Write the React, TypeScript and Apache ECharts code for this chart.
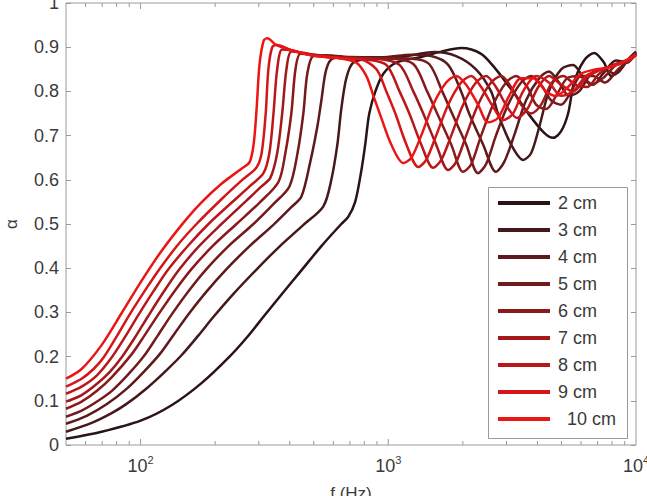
import React, { useEffect, useRef } from 'react';
import * as echarts from 'echarts';

const seriesNames = ['2 cm', '3 cm', '4 cm', '5 cm', '6 cm', '7 cm', '8 cm', '9 cm', '10 cm'];
const seriesColors = ['#2b1416', '#45191b', '#5c1a1c', '#721a1c', '#8a191c', '#a3181b', '#bb161a', '#d41619', '#ec1515'];

const alpha2cm = [[50,.014],[69.6,.030],[100,.055],[133.4,.09],[176.2,.14],[228.6,.20],[270.1,.245],[313.3,.29],[370,.34],[446,.395],[537,.45],[646,.50],[689,.516],[735,.55],[778,.62],[807,.68],[838,.75],[887,.80],[955,.84],[1077,.865],[1358,.878],[1636,.89],[1968,.898],[2370,.885],[2720,.85],[2935,.826],[3280,.79],[3670,.75],[4260,.706],[4630,.695],[4987,.71],[5320,.75],[5620,.82],[6170,.87],[6780,.887],[7430,.865],[7930,.835],[8540,.845],[9380,.875],[10000,.89]];
const alpha3cm = [[50,.030],[63.5,.050],[76.4,.072],[87.8,.093],[105.7,.128],[125,.165],[146.3,.203],[171.3,.248],[197,.290],[237.1,.342],[293.7,.397],[363.6,.449],[454.4,.498],[547,.540],[589,.60],[623,.68],[646,.76],[677,.83],[721,.865],[855,.875],[1128,.878],[1532,.889],[1878,.88],[2260,.85],[2600,.80],[2770,.75],[3130,.68],[3500,.645],[3770,.66],[4070,.72],[4450,.80],[4987,.85],[5570,.86],[6170,.83],[6710,.815],[7360,.84],[8310,.87],[9200,.865],[10000,.887]];
const alpha4cm = [[50,.048],[60.6,.066],[72.9,.092],[87.8,.127],[102.8,.165],[119.3,.205],[135.9,.249],[156.1,.296],[184.5,.347],[222.3,.398],[275.5,.450],[343.6,.498],[406,.538],[446,.562],[484,.64],[517,.72],[537,.78],[562,.85],[600,.875],[708,.878],[937,.877],[1239,.883],[1490,.88],[1745,.86],[1968,.80],[2120,.75],[2414,.68],[2720,.618],[2935,.64],[3220,.70],[3600,.78],[4070,.83],[4450,.845],[4890,.82],[5370,.79],[5890,.80],[6590,.84],[7360,.85],[8230,.84],[9120,.865],[10000,.886]];
const alpha5cm = [[50,.064],[57.8,.078],[66.5,.098],[76.4,.122],[88.6,.158],[102.8,.200],[117.1,.247],[133.4,.295],[156.1,.348],[184.5,.398],[226.5,.450],[285.5,.500],[343.6,.545],[399,.585],[430,.66],[454,.75],[471,.84],[498,.88],[562,.882],[708,.877],[937,.875],[1239,.874],[1462,.862],[1651,.80],[1810,.75],[2062,.68],[2303,.615],[2480,.635],[2720,.70],[3045,.77],[3437,.82],[3770,.835],[4140,.815],[4540,.78],[4987,.77],[5470,.80],[6000,.835],[6710,.835],[7500,.82],[8460,.85],[9550,.875],[10000,.884]];
const alpha6cm = [[50,.082],[57.8,.098],[66.5,.122],[76.4,.153],[92,.205],[103.8,.248],[118.2,.296],[137.1,.348],[160.5,.398],[197,.452],[243.8,.500],[301.8,.548],[360.2,.595],[384,.66],[406,.75],[422,.85],[442,.885],[489,.884],[589,.878],[778,.875],[1028,.874],[1262,.862],[1435,.80],[1575,.75],[1795,.68],[2005,.618],[2160,.635],[2370,.70],[2650,.77],[2990,.82],[3280,.835],[3640,.81],[3950,.77],[4330,.76],[4760,.79],[5270,.83],[5890,.835],[6590,.815],[7360,.83],[8310,.86],[9380,.872],[10000,.884]];
const alpha7cm = [[50,.098],[57.8,.113],[66.5,.138],[75,.165],[83.8,.198],[94.6,.242],[107.7,.293],[123.8,.346],[143.7,.398],[173,.451],[212.1,.500],[267.6,.553],[307.6,.585],[334.4,.605],[356,.66],[373,.75],[388,.85],[406,.89],[446,.888],[537,.88],[677,.876],[896,.874],[1110,.86],[1262,.80],[1384,.75],[1560,.68],[1745,.622],[1878,.64],[2062,.70],[2303,.77],[2600,.82],[2855,.835],[3130,.81],[3437,.77],[3770,.75],[4140,.77],[4580,.82],[5080,.835],[5680,.815],[6350,.81],[7100,.84],[8080,.86],[9120,.87],[10000,.882]];
const alpha8cm = [[50,.116],[57.8,.132],[66.5,.157],[76.4,.198],[86.2,.243],[98.2,.295],[112.8,.348],[129.7,.398],[156.1,.452],[188,.500],[232.8,.548],[275.5,.585],[313.3,.615],[331,.66],[344,.75],[356,.85],[373,.895],[406,.893],[489,.882],[617,.876],[815,.872],[982,.86],[1110,.80],[1216,.75],[1358,.68],[1518,.627],[1636,.645],[1795,.70],[2005,.77],[2260,.82],[2480,.835],[2720,.81],[3020,.765],[3310,.74],[3640,.76],[4030,.81],[4450,.835],[4987,.815],[5570,.80],[6290,.83],[7230,.85],[8310,.86],[9380,.872],[10000,.884]];
const alpha9cm = [[50,.132],[57.8,.150],[64.6,.172],[70.9,.198],[80,.245],[90.3,.295],[103.8,.348],[119.3,.398],[141,.452],[168.2,.500],[212.1,.556],[255.4,.598],[293.7,.628],[308,.66],[320,.75],[328,.85],[340,.90],[356,.905],[406,.893],[489,.882],[617,.876],[778,.872],[896,.85],[982,.80],[1068,.75],[1183,.68],[1322,.629],[1422,.645],[1560,.70],[1745,.77],[1968,.82],[2160,.835],[2370,.81],[2650,.765],[2910,.735],[3190,.75],[3500,.80],[3950,.835],[4450,.82],[4987,.79],[5570,.80],[6290,.835],[7230,.85],[8310,.86],[9380,.87],[10000,.882]];
const alpha10cm = [[50,.150],[57.8,.172],[69.6,.226],[83.8,.298],[100,.368],[121.5,.439],[150.5,.506],[176.2,.549],[212.1,.591],[255.4,.625],[275.5,.64],[286,.68],[294,.76],[302,.86],[314,.915],[325,.92],[353,.905],[406,.893],[489,.882],[617,.876],[742,.865],[815,.835],[871,.79],[937,.74],[1028,.68],[1150,.638],[1239,.65],[1358,.70],[1518,.77],[1713,.82],[1878,.835],[2062,.815],[2303,.77],[2527,.73],[2770,.74],[3075,.79],[3437,.83],[3840,.83],[4330,.80],[4760,.79],[5320,.81],[6000,.84],[6900,.85],[7930,.855],[9120,.87],[10000,.885]];

const seriesData = [alpha2cm, alpha3cm, alpha4cm, alpha5cm, alpha6cm, alpha7cm, alpha8cm, alpha9cm, alpha10cm];

const xTickValues = [60, 70, 80, 90, 100, 200, 300, 400, 500, 600, 700, 800, 900, 1000, 2000, 3000, 4000, 5000, 6000, 7000, 8000, 9000];

const FONT = "'Liberation Sans', Arial, sans-serif";
const AXIS_GRAY = '#9a9a9a';
const TEXT = '#3a3a3a';

export default function App() {
  const ref = useRef<HTMLDivElement>(null);
  useEffect(() => {
    const chart = echarts.init(ref.current!, null, { renderer: 'svg' });
    const isDecade = (v: number) => {
      const e = Math.log10(v);
      return Math.abs(e - Math.round(e)) < 1e-6;
    };
    chart.setOption({
      animation: false,
      backgroundColor: '#fff',
      grid: { left: 66, right: 11, top: 3, bottom: 51, outerBoundsMode: 'none', containLabel: false, show: true, borderColor: AXIS_GRAY, borderWidth: 1, backgroundColor: 'transparent' },
      xAxis: {
        type: 'log', logBase: 10, min: 50, max: 10000,
        axisLine: { show: false },
        axisTick: { show: false },
        splitLine: { show: false },
        axisLabel: {
          margin: 9,
          hideOverlap: false,
          formatter: (v: number) => (isDecade(v) ? `{b|10}{s|${Math.round(Math.log10(v))}}` : ''),
          rich: {
            b: { fontSize: 18, color: TEXT, fontFamily: FONT },
            s: { fontSize: 11, color: TEXT, fontFamily: FONT, padding: [0, 0, 12, 0] },
          },
        },
        name: 'f (Hz)', nameLocation: 'middle', nameGap: 40,
        nameTextStyle: { fontSize: 17, color: TEXT, fontFamily: FONT },
      },
      yAxis: [
        {
          type: 'value', min: 0, max: 1, interval: 0.1,
          axisLine: { show: false },
          axisTick: { show: true, inside: true, length: 5, lineStyle: { color: AXIS_GRAY } },
          axisLabel: { fontSize: 18, color: TEXT, fontFamily: FONT, margin: 7 },
          splitLine: { show: false },
          name: 'α', nameLocation: 'middle', nameGap: 46, nameRotate: 90,
          nameTextStyle: { fontSize: 17, color: TEXT, fontFamily: FONT },
        },
        {
          type: 'value', min: 0, max: 1, interval: 0.1, position: 'right',
          axisLine: { show: false },
          axisTick: { show: true, inside: true, length: 5, lineStyle: { color: AXIS_GRAY } },
          axisLabel: { show: false },
          splitLine: { show: false },
        },
      ],
      legend: {
        data: seriesNames,
        orient: 'vertical',
        left: 498, top: 193,
        padding: 0,
        itemGap: 7,
        itemWidth: 52, itemHeight: 4,
        icon: 'rect',
        selectedMode: false,
        z: 5,
        formatter: (n: string) => (n === '10 cm' ? `{p|${n}}` : n),
        textStyle: {
          fontSize: 18, lineHeight: 20, color: TEXT, fontFamily: FONT, padding: [0, 0, 0, 3],
          rich: { p: { fontSize: 18, lineHeight: 20, color: TEXT, fontFamily: FONT, padding: [0, 0, 0, 9] } },
        },
      },
      graphic: [
        { type: 'rect', z: 4, shape: { x: 488.5, y: 187.5, width: 139, height: 251 }, style: { fill: '#fff', stroke: AXIS_GRAY, lineWidth: 1 } },
      ],
      series: [
        ...seriesNames.map((name, i) => ({
          type: 'line', name, data: seriesData[i], showSymbol: false, smooth: 0.3,
          lineStyle: { width: 2.5, color: seriesColors[i] }, itemStyle: { color: seriesColors[i] }, z: 2,
        })),
        {
          type: 'custom', name: 'xticks', silent: true, clip: false, z: 3,
          data: xTickValues.map((v) => [v, 0]),
          renderItem: (params: any, api: any) => {
            const v = api.value(0);
            const b = api.coord([v, 0]);
            const t = api.coord([v, 1]);
            const len = isDecade(v) ? 6 : 4;
            return {
              type: 'group',
              children: [
                { type: 'line', shape: { x1: b[0], y1: b[1], x2: b[0], y2: b[1] - len }, style: { stroke: AXIS_GRAY, lineWidth: 1 } },
                { type: 'line', shape: { x1: t[0], y1: t[1], x2: t[0], y2: t[1] + len }, style: { stroke: AXIS_GRAY, lineWidth: 1 } },
              ],
            };
          },
        },
      ],
    });
    return () => chart.dispose();
  }, []);
  return <div ref={ref} style={{ position: 'fixed', left: 0, top: 0, width: 647, height: 496, background: '#fff' }} />;
}
